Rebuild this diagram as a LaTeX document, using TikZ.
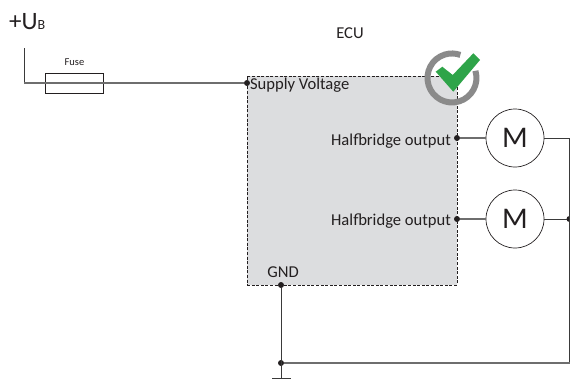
\documentclass[tikz,border=0pt]{standalone}
\usepackage{fontspec}
\setmainfont{Carlito}
\definecolor{ecu}{HTML}{DCDDDF}
\definecolor{wire}{HTML}{3A3A3A}
\definecolor{ink}{HTML}{231F20}
\definecolor{ringc}{HTML}{8A8A8A}
\definecolor{tick}{HTML}{2EA449}
\tikzset{
  x=1pt,y=-1pt,
  ecubox/.style={draw=ink,fill=ecu,dashed,dash pattern=on 3pt off 1.6pt,line width=0.9pt,minimum width=210pt,minimum height=209pt,inner sep=0pt,outer sep=0pt,anchor=north west},
  wireline/.style={draw=wire,line width=0.9pt},
  heavy/.style={draw=ringc!80!black,line width=1.4pt},
  fusebox/.style={draw=ink,fill=none,line width=0.7pt,minimum width=58pt,minimum height=20pt,inner sep=0pt,outer sep=0pt},
  motor/.style={circle,draw=ink,fill=white,line width=0.7pt,minimum size=58pt,inner sep=0pt,outer sep=0pt,font=\fontsize{30}{30}\selectfont,text=ink},
  dotp/.style={circle,fill=ink,minimum size=6pt,inner sep=0pt,outer sep=0pt},
  lbl/.style={font=\fontsize{16.6}{18}\selectfont,text=ink,inner sep=0pt,outer sep=0pt},
}
\begin{document}
\begin{tikzpicture}
\useasboundingbox (0,0) rectangle (570,381);
\node[ecubox] (ecu) at (247,76) {};
% terminals
\coordinate (top) at (24,48);
\coordinate (corner) at (24,83);
\node[dotp] (vcc) at (247,83) {};
\node[dotp] (h1) at (457,138) {};
\node[dotp] (h2) at (457,219) {};
\node[dotp] (gnd) at (281,285) {};
\node[dotp] (gj) at (281,363) {};
\node[dotp] (bj) at (569.5,219) {};
\coordinate (bt) at (569.5,138);
\coordinate (bb) at (569.5,363);
\coordinate (gs) at (281,378);
\coordinate (gl) at (272,378);
\coordinate (gr) at (291,378);
\node[fusebox] (fuse) at (74,83) {};
\node[motor] (m1) at (515,138) {M};
\node[motor] (m2) at (515,219) {M};
% wires
\draw[wireline] (top) -- (corner);
\draw[heavy] (corner) -- (vcc);
\draw[heavy] (h1) -- (m1);
\draw[heavy] (h2) -- (m2);
\draw[wireline] (m1) -- (bt);
\draw[wireline] (m2) -- (bj);
\draw[wireline] (bt) -- (bb);
\draw[heavy] (bb) -- (gj);
\draw[wireline] (gnd) -- (gs);
\draw[wireline] (gl) -- (gr);
% texts
\node[anchor=base west,inner sep=0pt,text=ink] (ub) at (9,29) {\fontsize{25}{25}\selectfont +U\fontsize{14}{14}\selectfont B};
\node[lbl] (ecut) at (350,33) {ECU};
\node[font=\fontsize{10.5}{11}\selectfont,text=ink,inner sep=0pt] (fuset) at (74.5,62) {Fuse};
\node[lbl,anchor=west] (sv) at (250,85) {Supply Voltage};
\node[lbl,anchor=east] (ho1) at (451,141) {Halfbridge output};
\node[lbl,anchor=east] (ho2) at (451,221) {Halfbridge output};
\node[lbl] (gt) at (283,272) {GND};
% status icon
\draw[ringc,line width=6pt] (475.4,70.8) arc[start angle=17,end angle=-290,x radius=24.5pt,y radius=24.5pt];
\fill[tick] (435.7,71.7) -- (442.3,66.7) -- (452.7,75) -- (473.3,53.3) -- (480,60) -- (453.3,91.7) -- cycle;
\end{tikzpicture}
\end{document}
